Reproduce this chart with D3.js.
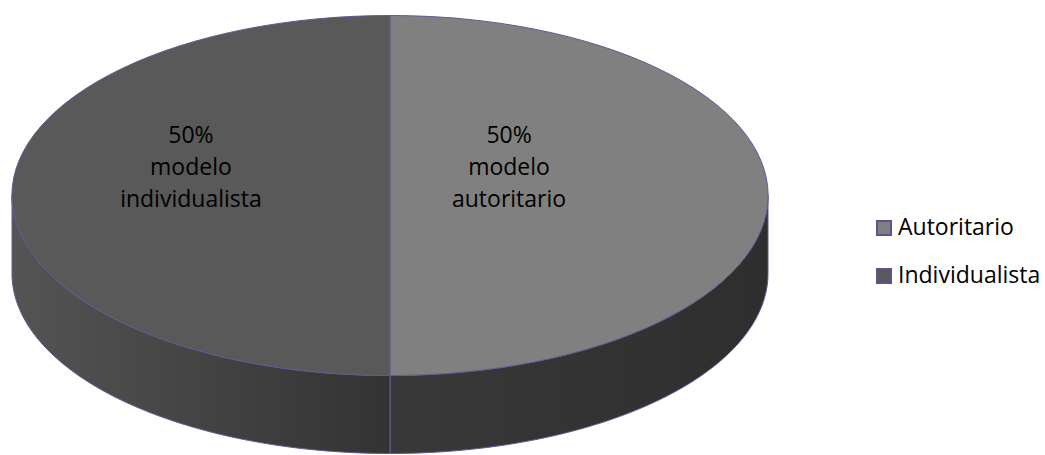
<!DOCTYPE html>
<html>
<head>
<meta charset="utf-8">
<script src="https://cdn.jsdelivr.net/npm/d3@7"></script>
<style>
  body { margin: 0; background: #fff; }
  text { font-family: "Open Sans", sans-serif; }
</style>
</head>
<body>
<div id="chart"></div>
<script>
// data
var categories = ["Autoritario", "Individualista"];
var values = [50, 50];
var sliceLabels = [["50%", "modelo", "autoritario"], ["50%", "modelo", "individualista"]];

var width = 1045, height = 455;
var cx = 390, cy = 195.5, rx = 378, ry = 180, depth = 78;
var topColors = ["#808080", "#595959"];
var edge = "#6a5696";
var labelNudge = [0, -80]; // excel pushed the left label further out

var svg = d3.select('#chart').append('svg')
    .attr('width', width)
    .attr('height', height);

var defs = svg.append('defs');
// side shading, one gradient per slice
var sideStops = [
    [["0%", "#393939"], ["100%", "#2e2e2e"]],
    [["0%", "#545454"], ["100%", "#333333"]]
];
sideStops.forEach(function (stops, i) {
    var grad = defs.append('linearGradient')
        .attr('id', 'side' + i)
        .attr('x1', '0%').attr('x2', '100%').attr('y1', '0%').attr('y2', '0%');
    stops.forEach(function (s) {
        grad.append('stop').attr('offset', s[0]).attr('stop-color', s[1]);
    });
});

var pie = d3.pie().sort(null).value(function (d) { return d; });
var arcs = pie(values);

function ex(a) { return cx + rx * Math.sin(a); }
function ey(a) { return cy - ry * Math.cos(a); }

// wall under the front part of a slice (angles between 3 o'clock and 9 o'clock)
function sidePath(d) {
    var a0 = Math.max(d.startAngle, Math.PI / 2);
    var a1 = Math.min(d.endAngle, Math.PI * 3 / 2);
    if (a1 <= a0) return null;
    var n = 80;
    var angs = d3.range(n + 1).map(function (k) { return a0 + (a1 - a0) * k / n; });
    var pts = angs.map(function (a) { return [ex(a), ey(a)]; });
    angs.slice().reverse().forEach(function (a) { pts.push([ex(a), ey(a) + depth]); });
    return d3.line()(pts) + "Z";
}

var sides = svg.append('g');
sides.selectAll('path')
    .data(arcs)
    .enter()
    .append('path')
    .attr('d', sidePath)
    .attr('fill', function (d, i) { return 'url(#side' + i + ')'; })
    .attr('stroke', edge)
    .attr('stroke-width', 1);

// top face: normal d3 arc squashed into an ellipse
var arc = d3.arc().innerRadius(0).outerRadius(rx);
var topG = svg.append('g')
    .attr('transform', 'translate(' + cx + ',' + cy + ') scale(1,' + (ry / rx) + ')');
topG.selectAll('path')
    .data(arcs)
    .enter()
    .append('path')
    .attr('d', arc)
    .attr('fill', function (d, i) { return topColors[i]; })
    .attr('stroke', edge)
    .attr('stroke-width', 1)
    .attr('vector-effect', 'non-scaling-stroke');

// data labels
var labelArc = d3.arc().innerRadius(0).outerRadius(rx * 0.63);
var labels = svg.append('g');
arcs.forEach(function (d, i) {
    var c = labelArc.centroid(d);
    var lx = cx + c[0] + labelNudge[i];
    var ly = cy + c[1] * ry / rx - 29;
    var t = labels.append('text')
        .attr('x', lx)
        .attr('y', ly - 24)
        .attr('text-anchor', 'middle')
        .attr('font-size', 23)
        .attr('fill', '#000');
    sliceLabels[i].forEach(function (line, k) {
        t.append('tspan')
            .attr('x', lx)
            .attr('dy', k == 0 ? 0 : 32)
            .text(line);
    });
});

// legend
var legend = svg.append('g').attr('transform', 'translate(877,0)');
var item = legend.selectAll('g')
    .data(categories)
    .enter()
    .append('g')
    .attr('transform', function (d, i) { return 'translate(0,' + (221 + i * 48) + ')'; });
item.append('rect')
    .attr('width', 14)
    .attr('height', 14)
    .attr('fill', function (d, i) { return topColors[i]; })
    .attr('stroke', '#65508f')
    .attr('stroke-width', 2);
item.append('text')
    .attr('x', 21)
    .attr('y', 14)
    .attr('font-size', 23)
    .attr('fill', '#000')
    .text(function (d) { return d; });
</script>
</body>
</html>
